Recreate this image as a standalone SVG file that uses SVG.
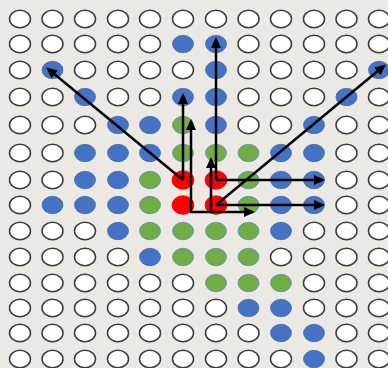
<svg xmlns="http://www.w3.org/2000/svg" width="388" height="368" viewBox="0 0 388 368">
<style>
ellipse{rx:10.5px;ry:8.7px}
.w{fill:#ffffff;stroke:#3c3c3c;stroke-width:1.5}
.b{fill:#4472C4;stroke:#41719C;stroke-width:0.8}
.g{fill:#70AD47;stroke:#5B8DB8;stroke-width:0.8}
.r{fill:#FF0000;stroke:#FF0000;stroke-width:0.8;rx:11px;ry:9.3px}
.c line{stroke:#000;stroke-width:2.5;marker-end:url(#ah)}
</style>
<defs>
<marker id="ah" markerUnits="userSpaceOnUse" markerWidth="11" markerHeight="10" refX="8" refY="5" orient="auto">
<path d="M0,0 L11,5 L0,10 z" fill="#000"/>
</marker>
</defs>
<rect width="388" height="368" fill="#ECE9E5"/>
<g id="nodes">
<g id="n0_0"><ellipse class="w" cx="20" cy="19"/></g>
<g id="n0_1"><ellipse class="w" cx="52.5" cy="19"/></g>
<g id="n0_2"><ellipse class="w" cx="85" cy="19"/></g>
<g id="n0_3"><ellipse class="w" cx="118" cy="19"/></g>
<g id="n0_4"><ellipse class="w" cx="150" cy="19"/></g>
<g id="n0_5"><ellipse class="w" cx="183" cy="19"/></g>
<g id="n0_6"><ellipse class="w" cx="216" cy="19"/></g>
<g id="n0_7"><ellipse class="w" cx="248.5" cy="19"/></g>
<g id="n0_8"><ellipse class="w" cx="281" cy="19"/></g>
<g id="n0_9"><ellipse class="w" cx="314" cy="19"/></g>
<g id="n0_10"><ellipse class="w" cx="346.5" cy="19"/></g>
<g id="n0_11"><ellipse class="w" cx="379" cy="19"/></g>

<g id="n1_0"><ellipse class="w" cx="20" cy="44"/></g>
<g id="n1_1"><ellipse class="w" cx="52.5" cy="44"/></g>
<g id="n1_2"><ellipse class="w" cx="85" cy="44"/></g>
<g id="n1_3"><ellipse class="w" cx="118" cy="44"/></g>
<g id="n1_4"><ellipse class="w" cx="150" cy="44"/></g>
<g id="n1_5"><ellipse class="b" cx="183" cy="44"/></g>
<g id="n1_6"><ellipse class="b" cx="216" cy="44"/></g>
<g id="n1_7"><ellipse class="w" cx="248.5" cy="44"/></g>
<g id="n1_8"><ellipse class="w" cx="281" cy="44"/></g>
<g id="n1_9"><ellipse class="w" cx="314" cy="44"/></g>
<g id="n1_10"><ellipse class="w" cx="346.5" cy="44"/></g>
<g id="n1_11"><ellipse class="w" cx="379" cy="44"/></g>

<g id="n2_0"><ellipse class="w" cx="20" cy="70"/></g>
<g id="n2_1"><ellipse class="b" cx="52.5" cy="70"/></g>
<g id="n2_2"><ellipse class="w" cx="85" cy="70"/></g>
<g id="n2_3"><ellipse class="w" cx="118" cy="70"/></g>
<g id="n2_4"><ellipse class="w" cx="150" cy="70"/></g>
<g id="n2_5"><ellipse class="w" cx="183" cy="70"/></g>
<g id="n2_6"><ellipse class="b" cx="216" cy="70"/></g>
<g id="n2_7"><ellipse class="w" cx="248.5" cy="70"/></g>
<g id="n2_8"><ellipse class="w" cx="281" cy="70"/></g>
<g id="n2_9"><ellipse class="w" cx="314" cy="70"/></g>
<g id="n2_10"><ellipse class="w" cx="346.5" cy="70"/></g>
<g id="n2_11"><ellipse class="b" cx="379" cy="70"/></g>

<g id="n3_0"><ellipse class="w" cx="20" cy="97"/></g>
<g id="n3_1"><ellipse class="w" cx="52.5" cy="97"/></g>
<g id="n3_2"><ellipse class="b" cx="85" cy="97"/></g>
<g id="n3_3"><ellipse class="w" cx="118" cy="97"/></g>
<g id="n3_4"><ellipse class="w" cx="150" cy="97"/></g>
<g id="n3_5"><ellipse class="b" cx="183" cy="97"/></g>
<g id="n3_6"><ellipse class="b" cx="216" cy="97"/></g>
<g id="n3_7"><ellipse class="w" cx="248.5" cy="97"/></g>
<g id="n3_8"><ellipse class="w" cx="281" cy="97"/></g>
<g id="n3_9"><ellipse class="w" cx="314" cy="97"/></g>
<g id="n3_10"><ellipse class="b" cx="346.5" cy="97"/></g>
<g id="n3_11"><ellipse class="w" cx="379" cy="97"/></g>

<g id="n4_0"><ellipse class="w" cx="20" cy="125"/></g>
<g id="n4_1"><ellipse class="w" cx="52.5" cy="125"/></g>
<g id="n4_2"><ellipse class="w" cx="85" cy="125"/></g>
<g id="n4_3"><ellipse class="b" cx="118" cy="125"/></g>
<g id="n4_4"><ellipse class="b" cx="150" cy="125"/></g>
<g id="n4_5"><ellipse class="g" cx="183" cy="125"/></g>
<g id="n4_6"><ellipse class="b" cx="216" cy="125"/></g>
<g id="n4_7"><ellipse class="w" cx="248.5" cy="125"/></g>
<g id="n4_8"><ellipse class="w" cx="281" cy="125"/></g>
<g id="n4_9"><ellipse class="b" cx="314" cy="125"/></g>
<g id="n4_10"><ellipse class="w" cx="346.5" cy="125"/></g>
<g id="n4_11"><ellipse class="w" cx="379" cy="125"/></g>

<g id="n5_0"><ellipse class="w" cx="20" cy="153"/></g>
<g id="n5_1"><ellipse class="w" cx="52.5" cy="153"/></g>
<g id="n5_2"><ellipse class="b" cx="85" cy="153"/></g>
<g id="n5_3"><ellipse class="b" cx="118" cy="153"/></g>
<g id="n5_4"><ellipse class="b" cx="150" cy="153"/></g>
<g id="n5_5"><ellipse class="g" cx="183" cy="153"/></g>
<g id="n5_6"><ellipse class="g" cx="216" cy="153"/></g>
<g id="n5_7"><ellipse class="g" cx="248.5" cy="153"/></g>
<g id="n5_8"><ellipse class="b" cx="281" cy="153"/></g>
<g id="n5_9"><ellipse class="b" cx="314" cy="153"/></g>
<g id="n5_10"><ellipse class="w" cx="346.5" cy="153"/></g>
<g id="n5_11"><ellipse class="w" cx="379" cy="153"/></g>

<g id="n6_0"><ellipse class="w" cx="20" cy="180"/></g>
<g id="n6_1"><ellipse class="w" cx="52.5" cy="180"/></g>
<g id="n6_2"><ellipse class="b" cx="85" cy="180"/></g>
<g id="n6_3"><ellipse class="b" cx="118" cy="180"/></g>
<g id="n6_4"><ellipse class="g" cx="150" cy="180"/></g>
<g id="n6_5"><ellipse class="r" cx="183" cy="180"/></g>
<g id="n6_6"><ellipse class="r" cx="216" cy="180"/></g>
<g id="n6_7"><ellipse class="g" cx="248.5" cy="180"/></g>
<g id="n6_8"><ellipse class="b" cx="281" cy="180"/></g>
<g id="n6_9"><ellipse class="b" cx="314" cy="180"/></g>
<g id="n6_10"><ellipse class="w" cx="346.5" cy="180"/></g>
<g id="n6_11"><ellipse class="w" cx="379" cy="180"/></g>

<g id="n7_0"><ellipse class="w" cx="20" cy="205"/></g>
<g id="n7_1"><ellipse class="b" cx="52.5" cy="205"/></g>
<g id="n7_2"><ellipse class="b" cx="85" cy="205"/></g>
<g id="n7_3"><ellipse class="b" cx="118" cy="205"/></g>
<g id="n7_4"><ellipse class="g" cx="150" cy="205"/></g>
<g id="n7_5"><ellipse class="r" cx="183" cy="205"/></g>
<g id="n7_6"><ellipse class="r" cx="216" cy="205"/></g>
<g id="n7_7"><ellipse class="g" cx="248.5" cy="205"/></g>
<g id="n7_8"><ellipse class="b" cx="281" cy="205"/></g>
<g id="n7_9"><ellipse class="b" cx="314" cy="205"/></g>
<g id="n7_10"><ellipse class="w" cx="346.5" cy="205"/></g>
<g id="n7_11"><ellipse class="w" cx="379" cy="205"/></g>

<g id="n8_0"><ellipse class="w" cx="20" cy="231"/></g>
<g id="n8_1"><ellipse class="w" cx="52.5" cy="231"/></g>
<g id="n8_2"><ellipse class="w" cx="85" cy="231"/></g>
<g id="n8_3"><ellipse class="b" cx="118" cy="231"/></g>
<g id="n8_4"><ellipse class="g" cx="150" cy="231"/></g>
<g id="n8_5"><ellipse class="g" cx="183" cy="231"/></g>
<g id="n8_6"><ellipse class="g" cx="216" cy="231"/></g>
<g id="n8_7"><ellipse class="g" cx="248.5" cy="231"/></g>
<g id="n8_8"><ellipse class="b" cx="281" cy="231"/></g>
<g id="n8_9"><ellipse class="w" cx="314" cy="231"/></g>
<g id="n8_10"><ellipse class="w" cx="346.5" cy="231"/></g>
<g id="n8_11"><ellipse class="w" cx="379" cy="231"/></g>

<g id="n9_0"><ellipse class="w" cx="20" cy="257"/></g>
<g id="n9_1"><ellipse class="w" cx="52.5" cy="257"/></g>
<g id="n9_2"><ellipse class="w" cx="85" cy="257"/></g>
<g id="n9_3"><ellipse class="w" cx="118" cy="257"/></g>
<g id="n9_4"><ellipse class="b" cx="150" cy="257"/></g>
<g id="n9_5"><ellipse class="g" cx="183" cy="257"/></g>
<g id="n9_6"><ellipse class="g" cx="216" cy="257"/></g>
<g id="n9_7"><ellipse class="g" cx="248.5" cy="257"/></g>
<g id="n9_8"><ellipse class="w" cx="281" cy="257"/></g>
<g id="n9_9"><ellipse class="w" cx="314" cy="257"/></g>
<g id="n9_10"><ellipse class="w" cx="346.5" cy="257"/></g>
<g id="n9_11"><ellipse class="w" cx="379" cy="257"/></g>

<g id="n10_0"><ellipse class="w" cx="20" cy="283"/></g>
<g id="n10_1"><ellipse class="w" cx="52.5" cy="283"/></g>
<g id="n10_2"><ellipse class="w" cx="85" cy="283"/></g>
<g id="n10_3"><ellipse class="w" cx="118" cy="283"/></g>
<g id="n10_4"><ellipse class="w" cx="150" cy="283"/></g>
<g id="n10_5"><ellipse class="w" cx="183" cy="283"/></g>
<g id="n10_6"><ellipse class="g" cx="216" cy="283"/></g>
<g id="n10_7"><ellipse class="g" cx="248.5" cy="283"/></g>
<g id="n10_8"><ellipse class="g" cx="281" cy="283"/></g>
<g id="n10_9"><ellipse class="w" cx="314" cy="283"/></g>
<g id="n10_10"><ellipse class="w" cx="346.5" cy="283"/></g>
<g id="n10_11"><ellipse class="w" cx="379" cy="283"/></g>

<g id="n11_0"><ellipse class="w" cx="20" cy="308"/></g>
<g id="n11_1"><ellipse class="w" cx="52.5" cy="308"/></g>
<g id="n11_2"><ellipse class="w" cx="85" cy="308"/></g>
<g id="n11_3"><ellipse class="w" cx="118" cy="308"/></g>
<g id="n11_4"><ellipse class="w" cx="150" cy="308"/></g>
<g id="n11_5"><ellipse class="w" cx="183" cy="308"/></g>
<g id="n11_6"><ellipse class="w" cx="216" cy="308"/></g>
<g id="n11_7"><ellipse class="b" cx="248.5" cy="308"/></g>
<g id="n11_8"><ellipse class="b" cx="281" cy="308"/></g>
<g id="n11_9"><ellipse class="w" cx="314" cy="308"/></g>
<g id="n11_10"><ellipse class="w" cx="346.5" cy="308"/></g>
<g id="n11_11"><ellipse class="w" cx="379" cy="308"/></g>

<g id="n12_0"><ellipse class="w" cx="20" cy="333"/></g>
<g id="n12_1"><ellipse class="w" cx="52.5" cy="333"/></g>
<g id="n12_2"><ellipse class="w" cx="85" cy="333"/></g>
<g id="n12_3"><ellipse class="w" cx="118" cy="333"/></g>
<g id="n12_4"><ellipse class="w" cx="150" cy="333"/></g>
<g id="n12_5"><ellipse class="w" cx="183" cy="333"/></g>
<g id="n12_6"><ellipse class="w" cx="216" cy="333"/></g>
<g id="n12_7"><ellipse class="w" cx="248.5" cy="333"/></g>
<g id="n12_8"><ellipse class="b" cx="281" cy="333"/></g>
<g id="n12_9"><ellipse class="b" cx="314" cy="333"/></g>
<g id="n12_10"><ellipse class="w" cx="346.5" cy="333"/></g>
<g id="n12_11"><ellipse class="w" cx="379" cy="333"/></g>

<g id="n13_0"><ellipse class="w" cx="20" cy="359"/></g>
<g id="n13_1"><ellipse class="w" cx="52.5" cy="359"/></g>
<g id="n13_2"><ellipse class="w" cx="85" cy="359"/></g>
<g id="n13_3"><ellipse class="w" cx="118" cy="359"/></g>
<g id="n13_4"><ellipse class="w" cx="150" cy="359"/></g>
<g id="n13_5"><ellipse class="w" cx="183" cy="359"/></g>
<g id="n13_6"><ellipse class="w" cx="216" cy="359"/></g>
<g id="n13_7"><ellipse class="w" cx="248.5" cy="359"/></g>
<g id="n13_8"><ellipse class="w" cx="281" cy="359"/></g>
<g id="n13_9"><ellipse class="b" cx="314" cy="359"/></g>
<g id="n13_10"><ellipse class="w" cx="346.5" cy="359"/></g>
<g id="n13_11"><ellipse class="w" cx="379" cy="359"/></g>
</g>
<g id="connectors" class="c">
<line x1="183" y1="180" x2="48.5" y2="69.3"/>
<line x1="183" y1="180" x2="183" y2="96"/>
<line x1="191" y1="213" x2="191" y2="122"/>
<line x1="190" y1="212" x2="252" y2="212"/>
<line x1="211" y1="213" x2="211" y2="160"/>
<line x1="216" y1="180" x2="216" y2="40"/>
<line x1="216" y1="180" x2="322" y2="180"/>
<line x1="216" y1="205" x2="383.5" y2="66.3"/>
<line x1="216" y1="205" x2="322" y2="205"/>
</g>
</svg>
